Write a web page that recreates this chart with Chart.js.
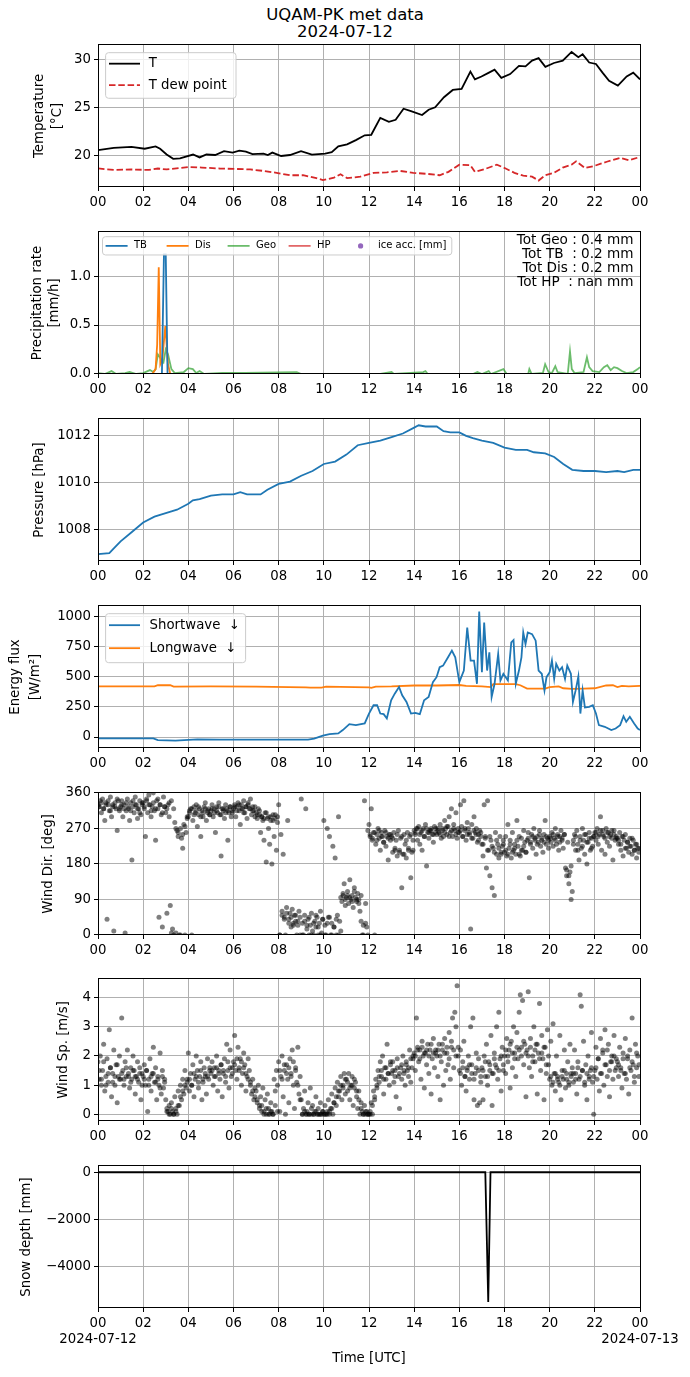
<!DOCTYPE html>
<html>
<head>
<meta charset="utf-8">
<title>UQAM-PK met data</title>
<script src="https://cdn.jsdelivr.net/npm/chart.js@4.4.1/dist/chart.umd.min.js"></script>
<style>
  html, body { margin: 0; padding: 0; background: #fff; }
  body { width: 690px; height: 1377px; position: relative; overflow: hidden; font-family: 'DejaVu Sans', sans-serif; }
  #title { position: absolute; left: 0; top: 7px; width: 690px; text-align: center; font-size: 16.5px; line-height: 16.8px; color: #000; }
  .panel { position: absolute; left: 0; width: 690px; }
</style>
</head>
<body>
<div id="title">UQAM-PK met data<br>2024-07-12</div>
<script>
// x axis: hours UTC
const hourTicks = [0, 2, 4, 6, 8, 10, 12, 14, 16, 18, 20, 22, 24];
const dateLabels = ['2024-07-12', '2024-07-13'];

// Temperature and dew point [°C]
const tHours = [0, 0.7, 1.48, 2.07, 2.55, 2.75, 3.04, 3.33, 3.63, 4.21, 4.5, 4.8, 5.19, 5.58, 5.96, 6.26, 6.55, 6.84, 7.33, 7.52,
  7.72, 8.11, 8.5, 8.99, 9.47, 10.06, 10.35, 10.64, 11.03, 11.42, 11.81, 12.1, 12.5, 12.88, 13.18, 13.53, 13.86, 14.35, 14.64, 14.93,
  15.32, 15.71, 16.1, 16.49, 16.69, 16.98, 17.27, 17.56, 17.86, 18.25, 18.64, 18.93, 19.22, 19.51, 19.81, 20.19, 20.58, 20.97, 21.27, 21.46,
  21.75, 22.05, 22.34, 22.63, 23.02, 23.41, 23.7, 24];
const tVals = [20.55, 20.8, 20.9, 20.7, 20.95, 20.7, 20.1, 19.65, 19.7, 20.1, 19.8, 20.1, 20.05, 20.45, 20.3, 20.5, 20.4, 20.15, 20.2, 20.05,
  20.3, 19.95, 20.05, 20.45, 20.1, 20.2, 20.35, 20.95, 21.15, 21.6, 22.1, 22.15, 23.9, 23.5, 23.7, 24.85, 24.6, 24.2, 24.75, 25.0,
  26.05, 26.8, 26.9, 28.7, 27.9, 28.2, 28.55, 28.9, 28.05, 28.45, 29.3, 29.25, 29.85, 30.1, 29.2, 29.6, 29.85, 30.75, 30.2, 30.5,
  29.65, 29.5, 28.6, 27.75, 27.25, 28.2, 28.6, 27.9];
const tdHours = [0, 0.7, 1.48, 2.26, 2.65, 3.04, 3.63, 4.02, 4.6, 5.38, 6.16, 6.74, 7.33, 7.91, 8.5, 9.08, 9.67, 9.96, 10.45, 10.74,
  11.03, 11.62, 12.2, 12.79, 13.37, 13.96, 14.54, 15.13, 15.52, 16.0, 16.49, 16.69, 17.08, 17.66, 18.05, 18.44, 18.83, 19.22, 19.51, 19.81,
  20.19, 20.58, 20.97, 21.17, 21.56, 21.95, 22.53, 23.12, 23.51, 24];
const tdVals = [18.66, 18.5, 18.55, 18.5, 18.65, 18.55, 18.7, 18.8, 18.75, 18.65, 18.6, 18.55, 18.4, 18.2, 17.95, 17.95, 17.65, 17.45, 17.7, 18.05,
  17.65, 17.8, 18.2, 18.25, 18.4, 18.2, 18.1, 17.95, 18.3, 19.05, 19.0, 18.3, 18.55, 19.05, 18.65, 18.2, 17.9, 17.8, 17.4, 17.95,
  18.2, 18.75, 19.05, 19.4, 18.7, 18.9, 19.35, 19.75, 19.5, 19.85];

// Precipitation rate [mm/h]
const tbHours = [0, 2.83, 2.92, 3.0, 3.08, 24];
const tbVals = [0, 0, 1.22, 1.22, 0, 0];
const disHours = [0, 2.4, 2.55, 2.62, 2.69, 2.76, 2.85, 2.98, 3.1, 3.2, 24];
const disVals = [0, 0, 0.05, 0.3, 1.09, 0.1, 0.15, 0.49, 0.1, 0, 0];
const geoHours = [0, 0.3, 0.6, 0.8, 1.2, 1.4, 1.7, 2.0, 2.3, 2.45, 2.55, 2.65, 2.8, 2.9, 3.0, 3.1, 3.25, 3.4, 3.8, 4.0,
  4.2, 4.35, 4.5, 4.7, 5.5, 6.5, 8.8, 9.0, 12.5, 13.0, 13.1, 14.4, 14.5, 14.6, 16.6, 16.8, 17.0, 17.3, 17.4, 17.95,
  18.1, 19.05, 19.1, 19.2, 19.7, 19.8, 19.95, 20.1, 20.25, 20.35, 20.8, 20.9, 20.98, 21.1, 21.5, 21.65, 21.75, 21.9, 22.2, 22.4,
  22.55, 22.7, 22.85, 23.0, 23.2, 23.4, 23.7, 23.9, 24];
const geoVals = [0.01, 0.0, 0.03, 0.0, 0.01, 0.02, 0.0, 0.01, 0.04, 0.02, 0.05, 0.2, 0.15, 0.12, 0.25, 0.2, 0.05, 0.01, 0.02, 0.06,
  0.05, 0.01, 0.03, 0.0, 0.01, 0.01, 0.02, 0.0, 0.0, 0.02, 0.0, 0.02, 0.03, 0.0, 0.0, 0.02, 0.0, 0.03, 0.0, 0.05,
  0.0, 0.0, 0.05, 0.0, 0.01, 0.1, 0.02, 0.01, 0.08, 0.02, 0.0, 0.23, 0.05, 0.01, 0.02, 0.17, 0.07, 0.03, 0.02, 0.07,
  0.09, 0.04, 0.07, 0.06, 0.03, 0.01, 0.02, 0.05, 0.07];
const precipTotals = ['Tot Geo : 0.4 mm', 'Tot TB  : 0.2 mm', 'Tot Dis : 0.2 mm', 'Tot HP  : nan mm'];

// Pressure [hPa]
const pHours = [0, 0.5, 0.7, 1, 1.5, 2, 2.5, 3, 3.5, 4, 4.2, 4.5, 5, 5.5, 6, 6.3, 6.6, 7.2, 7.5, 8,
  8.5, 9, 9.5, 10, 10.5, 11, 11.5, 12, 12.5, 13, 13.5, 14, 14.2, 14.5, 15, 15.3, 15.6, 16, 16.3, 16.6,
  17, 17.5, 18, 18.5, 19, 19.3, 19.8, 20.2, 20.6, 21, 21.5, 22, 22.5, 23, 23.3, 23.7, 24];
const pVals = [1006.95, 1007.0, 1007.2, 1007.5, 1007.9, 1008.3, 1008.55, 1008.7, 1008.85, 1009.1, 1009.25, 1009.3, 1009.45, 1009.5, 1009.5, 1009.6, 1009.5, 1009.5, 1009.7, 1009.95,
  1010.05, 1010.3, 1010.5, 1010.8, 1010.9, 1011.2, 1011.6, 1011.7, 1011.8, 1011.95, 1012.1, 1012.35, 1012.45, 1012.4, 1012.4, 1012.2, 1012.15, 1012.15, 1012.0, 1011.9,
  1011.8, 1011.7, 1011.5, 1011.4, 1011.4, 1011.3, 1011.25, 1011.1, 1010.8, 1010.55, 1010.5, 1010.5, 1010.45, 1010.5, 1010.45, 1010.55, 1010.55];

// Energy flux [W/m2]
const swHours = [0, 2.45, 2.65, 3.43, 4.4, 5.4, 9.3, 9.57, 9.96, 10.25, 10.64, 10.84, 11.13, 11.42, 11.81, 12.0, 12.2, 12.36, 12.5, 12.65,
  12.79, 12.98, 13.14, 13.33, 13.47, 13.66, 13.86, 14.05, 14.25, 14.44, 14.64, 14.83, 14.99, 15.13, 15.28, 15.5, 15.67, 15.82, 16.0, 16.2,
  16.35, 16.5, 16.65, 16.78, 16.88, 17.0, 17.1, 17.23, 17.33, 17.43, 17.56, 17.72, 17.82, 17.95, 18.15, 18.3, 18.4, 18.5, 18.64, 18.75,
  18.83, 18.93, 19.03, 19.22, 19.38, 19.51, 19.65, 19.77, 19.86, 20.0, 20.1, 20.2, 20.29, 20.43, 20.55, 20.68, 20.78, 20.94, 21.03, 21.15,
  21.27, 21.36, 21.46, 21.56, 21.75, 21.91, 22.05, 22.18, 22.44, 22.73, 22.92, 23.12, 23.27, 23.39, 23.55, 23.74, 23.9, 24];
const swVals = [-11, -11, -25, -30, -19, -22, -22, -14, 11, 25, 30, 58, 107, 99, 113, 195, 264, 264, 195, 190,
  154, 305, 360, 415, 346, 291, 195, 200, 190, 305, 332, 456, 497, 580, 593, 662, 717, 662, 456, 552,
  909, 635, 635, 442, 1041, 538, 950, 552, 703, 332, 442, 690, 470, 525, 470, 786, 805, 442, 552, 662,
  868, 772, 868, 854, 800, 552, 525, 387, 497, 538, 635, 483, 607, 552, 580, 483, 593, 525, 291, 387,
  503, 195, 387, 245, 250, 264, 195, 99, 85, 58, 71, 99, 173, 126, 168, 113, 71, 58];
const lwHours = [0, 2.5, 2.65, 3.2, 3.35, 5, 7, 9.2, 9.4, 9.9, 10.1, 12.0, 12.1, 12.3, 13.0, 14.0, 15.0, 16.0, 16.3, 17.0,
  17.4, 17.5, 18.0, 18.5, 18.7, 19.0, 19.8, 20.0, 20.4, 20.6, 21.0, 21.5, 22.0, 22.5, 22.8, 23.0, 23.2, 23.5, 24];
const lwVals = [420, 420, 430, 430, 418, 420, 418, 412, 410, 410, 418, 412, 408, 418, 420, 428, 428, 432, 425, 420,
  415, 440, 440, 440, 430, 402, 402, 415, 420, 405, 400, 402, 405, 428, 430, 415, 425, 420, 425];

// Wind samples, one every 3 minutes (20 per hour, one row per hour)
const windStep = 0.05;
const windDir = [
  330, 325, 340, 310, 345, 320, 290, 335, 40, 330, 315, 350, 300, 325, 10, 335, 320, 265, 340, 315,
  325, 340, 300, 330, 5, 315, 345, 320, 290, 335, 190, 325, 310, 350, 330, 295, 320, 340, 305, 330,
  335, 320, 250, 345, 310, 355, 330, 300, 325, 360, 315, 240, 340, 320, 45, 330, 305, 20, 350, 325,
  310, 55, 330, 300, 75, 340, 15, 320, 285, 5, 265, 250, 0, 270, 245, 220, 280, 0, 260, 295,
  300, 315, 320, 0, 290, 325, 310, 330, 275, 305, 320, 250, 315, 300, 325, 335, 290, 310, 320, 305,
  315, 330, 300, 320, 260, 325, 310, 335, 305, 200, 320, 315, 295, 330, 320, 240, 310, 325, 300, 315,
  320, 330, 300, 325, 335, 315, 280, 330, 320, 340, 310, 325, 295, 330, 320, 345, 305, 325, 315, 300,
  310, 295, 320, 305, 260, 300, 290, 240, 310, 185, 295, 270, 230, 300, 180, 290, 250, 305, 215, 285,
  330, 0, 255, 60, 205, 45, 0, 70, 290, 40, 55, 20, 65, 30, 50, 35, 0, 25, 60, 45,
  345, 30, 0, 50, 320, 15, 40, 0, 25, 55, 10, 0, 35, 20, 45, 0, 30, 60, 5, 40,
  290, 25, 0, 270, 45, 250, 0, 30, 225, 20, 195, 0, 50, 300, 35, 10, 85, 100, 130, 75,
  95, 110, 80, 140, 90, 100, 70, 120, 95, 85, 105, 90, 60, 35, 0, 25, 340, 80, 20, 265,
  280, 250, 320, 240, 260, 0, 230, 255, 270, 245, 215, 260, 250, 235, 265, 225, 250, 190, 255, 240,
  250, 210, 260, 220, 240, 200, 265, 215, 245, 120, 205, 255, 230, 195, 260, 215, 250, 145, 210, 240,
  265, 255, 270, 240, 275, 230, 260, 215, 270, 250, 280, 175, 260, 245, 265, 270, 255, 235, 275, 260,
  255, 270, 260, 280, 245, 265, 250, 290, 270, 255, 275, 300, 260, 320, 250, 280, 265, 310, 245, 270,
  260, 330, 275, 250, 340, 265, 240, 285, 270, 255, 15, 280, 245, 300, 260, 270, 235, 255, 265, 250,
  230, 200, 330, 250, 170, 340, 215, 150, 240, 120, 220, 100, 260, 205, 230, 195, 250, 210, 225, 240,
  210, 250, 200, 280, 220, 240, 195, 260, 215, 230, 205, 290, 225, 250, 200, 245, 215, 265, 235, 210,
  240, 260, 145, 230, 255, 220, 270, 245, 205, 250, 235, 265, 225, 240, 210, 255, 290, 230, 245, 220,
  250, 235, 260, 225, 245, 270, 230, 255, 215, 250, 265, 240, 220, 255, 170, 150, 235, 130, 160, 90,
  110, 240, 255, 215, 265, 230, 190, 250, 220, 270, 240, 205, 255, 180, 235, 260, 215, 245, 225, 250,
  260, 240, 270, 230, 255, 300, 215, 265, 250, 205, 270, 235, 260, 225, 255, 245, 190, 265, 240, 250,
  245, 230, 260, 215, 250, 200, 240, 255, 220, 235, 210, 245, 225, 205, 240, 215, 230, 195, 220, 210];
const windSpeed = [
  1.8, 1.2, 2.0, 1.0, 1.5, 2.4, 0.8, 1.3, 1.9, 1.1, 2.9, 1.6, 0.6, 1.4, 2.2, 1.0, 1.7, 0.4, 1.3, 2.0,
  1.2, 3.3, 1.5, 1.0, 1.8, 1.3, 2.2, 1.4, 0.9, 1.6, 1.2, 2.0, 1.5, 0.7, 1.3, 1.8, 1.1, 1.6, 0.5, 1.4,
  1.3, 1.7, 1.0, 1.5, 0.1, 1.2, 1.9, 0.8, 1.4, 2.3, 1.1, 1.6, 0.5, 1.3, 1.0, 2.1, 0.7, 1.5, 0.9, 1.2,
  0.5, 0.2, 0.1, 0.3, 0.0, 0.4, 0.1, 0.0, 0.6, 0.2, 0.0, 0.8, 0.3, 1.0, 0.5, 1.2, 0.7, 1.5, 0.9, 1.1,
  2.1, 0.8, 1.4, 1.0, 1.7, 0.6, 1.2, 2.0, 1.5, 0.9, 1.3, 1.8, 0.5, 1.1, 1.6, 1.3, 0.7, 1.9, 1.2, 1.5,
  1.4, 1.8, 1.0, 1.6, 1.3, 2.0, 0.8, 1.5, 1.2, 1.7, 0.6, 1.4, 1.9, 1.1, 2.4, 1.5, 0.9, 2.2, 1.3, 1.6,
  1.8, 2.7, 1.5, 1.2, 2.3, 1.6, 1.9, 1.0, 1.4, 2.1, 1.7, 0.8, 1.3, 1.9, 1.5, 1.1, 0.7, 1.2, 0.5, 0.9,
  0.8, 0.4, 1.0, 0.2, 0.6, 0.3, 0.9, 0.1, 0.5, 0.0, 0.7, 0.2, 0.0, 0.4, 0.1, 0.0, 1.2, 0.3, 1.5, 0.1,
  1.8, 0.1, 1.3, 2.0, 0.6, 1.5, 0.0, 1.7, 1.2, 0.4, 1.9, 1.4, 2.2, 1.0, 0.2, 1.6, 1.1, 2.3, 0.7, 1.3,
  0.5, 0.0, 0.2, 0.8, 0.0, 0.1, 0.4, 0.0, 0.9, 0.0, 0.3, 0.0, 0.1, 0.6, 0.0, 0.2, 0.0, 0.4, 0.0, 0.1,
  0.0, 0.3, 0.0, 0.1, 0.5, 0.0, 0.2, 0.7, 0.0, 0.4, 0.9, 0.3, 1.1, 0.6, 0.8, 1.3, 0.5, 1.0, 1.4, 0.7,
  1.2, 0.8, 1.4, 0.5, 1.0, 1.3, 0.3, 0.9, 1.1, 0.6, 0.2, 0.8, 0.0, 0.4, 0.1, 0.0, 0.3, 0.0, 0.1, 0.0,
  0.0, 0.1, 0.4, 0.0, 0.8, 0.5, 1.2, 0.9, 1.5, 1.1, 1.8, 1.3, 2.0, 0.7, 1.6, 1.2, 2.4, 1.4, 1.0, 1.7,
  1.4, 1.8, 1.1, 1.5, 0.6, 1.9, 1.3, 0.2, 1.6, 1.2, 2.0, 1.4, 1.0, 1.7, 1.5, 1.3, 2.2, 1.1, 1.6, 1.9,
  2.1, 1.5, 3.3, 2.3, 1.8, 2.2, 1.2, 2.5, 2.0, 0.9, 2.1, 1.7, 2.4, 1.4, 2.2, 0.7, 1.9, 2.6, 1.6, 2.1,
  2.0, 1.3, 2.4, 0.5, 1.8, 2.2, 1.0, 2.6, 1.5, 2.1, 1.7, 2.8, 1.2, 2.3, 3.3, 1.6, 3.5, 3.0, 4.4, 2.0,
  1.5, 2.2, 1.0, 1.8, 2.5, 1.3, 0.8, 1.6, 2.0, 1.2, 3.0, 1.7, 3.3, 0.5, 1.4, 2.1, 0.3, 1.9, 0.4, 1.1,
  1.6, 0.5, 2.0, 1.3, 2.4, 1.0, 1.8, 1.5, 2.7, 0.3, 1.4, 2.1, 1.7, 3.0, 1.2, 3.5, 1.9, 0.8, 2.3, 1.5,
  2.0, 1.4, 2.6, 1.8, 2.2, 0.9, 2.5, 1.6, 3.0, 2.1, 1.3, 2.8, 1.9, 3.5, 4.1, 2.3, 3.9, 1.7, 2.4, 0.6,
  2.2, 4.2, 1.6, 2.6, 1.3, 2.0, 3.0, 1.8, 2.4, 0.7, 2.1, 3.8, 1.5, 2.7, 1.9, 0.5, 2.3, 1.4, 2.9, 1.7,
  1.2, 2.5, 1.0, 3.1, 1.4, 0.8, 2.0, 1.3, 1.1, 2.7, 0.5, 1.5, 1.2, 2.2, 0.9, 1.4, 1.8, 1.0, 2.4, 1.3,
  1.6, 1.1, 2.2, 1.4, 0.7, 1.8, 1.2, 4.1, 3.7, 1.5, 2.5, 1.0, 1.7, 0.5, 2.0, 1.3, 1.5, 2.8, 1.1, 0.0,
  1.5, 2.3, 1.2, 1.9, 0.8, 2.6, 1.4, 2.2, 1.0, 2.9, 1.7, 1.3, 2.4, 0.6, 1.8, 2.0, 1.2, 2.7, 1.5, 1.9,
  1.8, 1.3, 2.3, 1.6, 0.9, 2.1, 1.4, 2.6, 1.2, 1.9, 0.7, 2.2, 1.5, 3.3, 1.7, 1.1, 2.4, 1.6, 2.0, 1.3];

// Second set of wind samples, every 6 minutes, starting at 00:03
const windStepB = 0.1;
const windStartB = 0.05;
const windDirB = [
  325, 335, 320, 330, 340, 315, 330, 325, 345, 320,
  330, 320, 335, 325, 315, 340, 330, 320, 310, 335,
  325, 340, 330, 315, 335, 320, 345, 330, 310, 325,
  320, 335, 5, 0, 270, 260, 0, 255, 275, 300,
  310, 320, 305, 315, 325, 300, 310, 320, 315, 305,
  320, 310, 315, 325, 305, 320, 310, 315, 325, 310,
  325, 315, 330, 320, 310, 325, 335, 320, 315, 325,
  305, 315, 300, 295, 310, 300, 290, 305, 295, 300,
  0, 50, 40, 55, 30, 45, 25, 50, 35, 0,
  0, 35, 25, 45, 0, 30, 50, 20, 0, 40,
  0, 30, 45, 0, 20, 40, 0, 95, 105, 90,
  100, 95, 85, 110, 90, 80, 100, 0, 30, 0,
  255, 245, 260, 240, 265, 250, 235, 260, 245, 255,
  245, 215, 255, 210, 250, 205, 240, 220, 255, 215,
  260, 270, 255, 265, 250, 270, 260, 265, 255, 270,
  265, 255, 270, 260, 275, 250, 265, 270, 255, 260,
  265, 250, 270, 255, 260, 245, 265, 255, 240, 260,
  230, 245, 215, 250, 225, 210, 240, 220, 205, 230,
  215, 205, 230, 210, 220, 240, 205, 215, 225, 210,
  245, 235, 250, 240, 230, 255, 245, 235, 250, 240,
  245, 255, 240, 250, 235, 245, 255, 165, 150, 175,
  230, 250, 215, 240, 225, 255, 235, 245, 220, 250,
  260, 250, 265, 255, 245, 260, 250, 265, 255, 245,
  240, 230, 250, 220, 235, 225, 245, 215, 230, 220];
const windSpeedB = [
  1.5, 1.2, 1.8, 1.0, 1.4, 1.6, 1.1, 1.3, 1.7, 1.2,
  1.4, 1.2, 1.6, 1.3, 1.1, 1.5, 1.3, 1.2, 1.4, 1.0,
  1.2, 1.5, 1.0, 1.3, 1.4, 1.1, 1.2, 0.9, 1.3, 1.1,
  0.1, 0.0, 0.2, 0.0, 0.1, 0.3, 0.6, 0.8, 1.0, 1.2,
  1.2, 1.0, 1.4, 1.3, 1.1, 1.5, 1.2, 1.4, 1.3, 1.6,
  1.5, 1.3, 1.6, 1.4, 1.7, 1.5, 1.3, 1.8, 1.6, 1.4,
  1.7, 1.9, 1.5, 1.8, 1.6, 1.4, 1.2, 1.0, 0.8, 0.6,
  0.5, 0.3, 0.1, 0.0, 0.2, 0.0, 0.1, 0.0, 0.8, 1.0,
  1.5, 1.2, 1.7, 1.4, 1.6, 1.3, 1.8, 1.5, 1.0, 0.5,
  0.0, 0.1, 0.0, 0.0, 0.2, 0.0, 0.1, 0.0, 0.0, 0.1,
  0.0, 0.0, 0.1, 0.2, 0.4, 0.6, 0.8, 1.0, 0.9, 1.2,
  1.1, 0.9, 1.0, 1.2, 0.8, 0.5, 0.2, 0.0, 0.1, 0.0,
  0.0, 0.3, 0.6, 1.0, 1.3, 1.5, 1.2, 1.6, 1.4, 1.8,
  1.5, 1.3, 1.6, 1.4, 1.7, 1.5, 1.8, 1.6, 1.9, 2.0,
  2.0, 2.2, 1.9, 2.3, 2.1, 2.2, 2.0, 2.4, 2.1, 2.2,
  2.2, 2.0, 2.4, 2.1, 2.3, 1.9, 2.5, 2.2, 2.0, 2.3,
  1.4, 1.6, 1.3, 1.5, 1.7, 1.4, 1.2, 1.6, 1.5, 1.3,
  1.5, 1.8, 1.3, 1.7, 1.4, 1.9, 1.6, 1.5, 2.0, 1.7,
  2.2, 2.0, 2.4, 2.1, 1.9, 2.3, 2.2, 2.0, 2.5, 2.1,
  2.0, 2.3, 1.8, 2.2, 2.4, 1.9, 2.1, 2.3, 1.7, 2.0,
  1.3, 1.1, 1.4, 1.2, 1.0, 1.3, 1.5, 1.2, 1.1, 1.4,
  1.4, 1.2, 1.6, 1.3, 1.5, 1.1, 1.4, 1.2, 1.6, 1.3,
  1.6, 1.9, 1.4, 2.1, 1.7, 2.2, 1.5, 1.8, 2.0, 1.6,
  1.7, 1.5, 1.9, 1.4, 2.0, 1.6, 1.8, 1.3, 2.1, 1.7];

// Snow depth [mm]
const snowHours = [0, 17.15, 17.28, 17.38, 24];
const snowVals = [0, 0, -5500, 0, 0];

// Tick values for each y axis
const tempTicks = [20, 25, 30];
const precipTicks = [0, 0.5, 1.0];
const pressTicks = [1008, 1010, 1012];
const fluxTicks = [0, 250, 500, 750, 1000];
const dirTicks = [0, 90, 180, 270, 360];
const speedTicks = [0, 1, 2, 3, 4];
const snowTicks = [-4000, -2000, 0];

const baseSize = 13.3;
Chart.defaults.font.family = "'DejaVu Sans', sans-serif";
Chart.defaults.font.size = baseSize;
Chart.defaults.color = '#000';
Chart.defaults.animation = false;

const gridColor = '#b0b0b0';
const padTop = 10;
const areaH = 143;

const pts = (xs, ys) => xs.map((x, i) => ({x: x, y: ys[i]}));

// both wind sample sets as points
function windPoints(a, b) {
  const out = a.map((v, i) => ({x: i * windStep, y: v}));
  b.forEach((v, i) => out.push({x: windStartB + i * windStepB, y: v}));
  return out;
}

// black frame around the plot area (top/right spines)
const frame = {
  id: 'frame',
  afterDatasetsDraw(chart) {
    const a = chart.chartArea, ctx = chart.ctx;
    const l = Math.round(a.left - 0.5) + 0.5, r = Math.round(a.right - 0.5) + 0.5;
    const t = Math.round(a.top - 0.5) + 0.5, b = Math.round(a.bottom - 0.5) + 0.5;
    ctx.save();
    ctx.strokeStyle = '#000';
    ctx.lineWidth = 1;
    ctx.strokeRect(l, t, r - l, b - t);
    ctx.restore();
  }
};

function roundRectPath(ctx, x, y, w, h, r) {
  ctx.beginPath();
  ctx.moveTo(x + r, y);
  ctx.arcTo(x + w, y, x + w, y + h, r);
  ctx.arcTo(x + w, y + h, x, y + h, r);
  ctx.arcTo(x, y + h, x, y, r);
  ctx.arcTo(x, y, x + w, y, r);
  ctx.closePath();
}

// matplotlib-like legend box drawn inside the plot area
const boxLegend = {
  id: 'boxLegend',
  afterDatasetsDraw(chart, args, o) {
    if (!o || !o.show) return;
    const ctx = chart.ctx, a = chart.chartArea;
    const x0 = a.left + o.x, y0 = a.top + o.y;
    ctx.save();
    roundRectPath(ctx, x0, y0, o.w, o.h, 3);
    ctx.fillStyle = 'rgba(255,255,255,0.8)';
    ctx.fill();
    ctx.strokeStyle = '#cccccc';
    ctx.lineWidth = 1;
    ctx.stroke();
    ctx.font = o.fontSize + "px 'DejaVu Sans'";
    ctx.textBaseline = 'middle';
    ctx.textAlign = 'left';
    chart.data.datasets.forEach(function(ds, i) {
      const col = i % o.cols, row = Math.floor(i / o.cols);
      const hx = x0 + o.padX + col * o.colW;
      const cy = y0 + o.rowY + row * o.rowH;
      if (ds.showLine === false) {
        ctx.fillStyle = ds.backgroundColor;
        ctx.beginPath();
        ctx.arc(hx + o.handle / 2, cy, 2.6, 0, Math.PI * 2);
        ctx.fill();
      } else {
        ctx.strokeStyle = ds.borderColor;
        ctx.lineWidth = ds.borderWidth;
        ctx.setLineDash(ds.borderDash || []);
        ctx.beginPath();
        ctx.moveTo(hx, cy);
        ctx.lineTo(hx + o.handle, cy);
        ctx.stroke();
        ctx.setLineDash([]);
      }
      ctx.fillStyle = '#000';
      ctx.fillText(ds.label, hx + o.textX, cy);
    });
    ctx.restore();
  }
};

// right-aligned text block in the upper right corner
const cornerText = {
  id: 'cornerText',
  afterDatasetsDraw(chart, args, o) {
    if (!o || !o.lines) return;
    const ctx = chart.ctx, a = chart.chartArea;
    ctx.save();
    ctx.font = "13.6px 'DejaVu Sans'";
    ctx.fillStyle = '#000';
    ctx.textAlign = 'right';
    ctx.textBaseline = 'middle';
    o.lines.forEach(function(s, i) {
      ctx.fillText(s, a.right - 6.5, a.top + 8.3 + i * 14);
    });
    ctx.restore();
  }
};

function timeAxis(bottomSpace, last) {
  return {
    type: 'linear', min: 0, max: 24,
    afterBuildTicks: function(s) { s.ticks = hourTicks.map(v => ({value: v})); },
    afterFit: function(s) { s.height = bottomSpace; },
    grid: {color: gridColor, lineWidth: 1, tickColor: '#000', tickLength: 4},
    border: {color: '#000', width: 1},
    ticks: {
      padding: 3, maxRotation: 0, autoSkip: false,
      font: {size: baseSize, lineHeight: 1.25},
      callback: function(v) {
        const h = String(v % 24).padStart(2, '0');
        if (last && v === 0) return [h, dateLabels[0]];
        if (last && v === 24) return [h, dateLabels[1]];
        return h;
      }
    },
    title: last ? {display: true, text: 'Time [UTC]', font: {size: baseSize, lineHeight: 1.2}, padding: {top: 0, bottom: 1}}
                : {display: false}
  };
}

function valueAxis(min, max, ticks, fmt, label, pad, lh) {
  return {
    type: 'linear', min: min, max: max,
    afterBuildTicks: function(s) { s.ticks = ticks.map(v => ({value: v})); },
    afterFit: function(s) { s.width = 98; },
    grid: {color: gridColor, lineWidth: 1, tickColor: '#000', tickLength: 4},
    border: {color: '#000', width: 1},
    ticks: {padding: 3, callback: fmt},
    title: {display: true, text: label, font: {size: baseSize, lineHeight: lh + 'px'}, padding: {top: pad, bottom: 0}}
  };
}

function addPanel(areaTop, bottomSpace, type, datasets, yAxis, last, extra) {
  const div = document.createElement('div');
  div.className = 'panel';
  div.style.top = (areaTop - padTop) + 'px';
  div.style.height = (padTop + areaH + bottomSpace) + 'px';
  const cv = document.createElement('canvas');
  div.appendChild(cv);
  document.body.appendChild(div);
  const pluginOpts = Object.assign({legend: {display: false}, tooltip: {enabled: false}}, extra || {});
  return new Chart(cv, {
    type: type,
    data: {datasets: datasets},
    options: {
      responsive: true,
      maintainAspectRatio: false,
      layout: {padding: {top: padTop, right: 50, left: 0, bottom: 0}},
      elements: {point: {radius: 0}, line: {tension: 0}},
      scales: {x: timeAxis(bottomSpace, last), y: yAxis},
      plugins: pluginOpts
    },
    plugins: [frame, boxLegend, cornerText]
  });
}

const plain = v => String(v);
const minusFmt = v => (v < 0 ? '\u2212' + Math.abs(v) : String(v));

// Temperature
addPanel(44, 30, 'line', [
  {label: 'T', data: pts(tHours, tVals), borderColor: '#000', borderWidth: 1.8, fill: false},
  {label: 'T dew point', data: pts(tdHours, tdVals), borderColor: '#d62728', borderWidth: 1.8, borderDash: [6.5, 2.8], fill: false}
], valueAxis(16.73, 31.47, tempTicks, plain, ['Temperature', '[°C]'], 30.8, 17.6), false,
  {boxLegend: {show: true, x: 7.6, y: 7.7, w: 130.4, h: 45.6, cols: 1, colW: 0, padX: 3.4, handle: 31, textX: 39.7, rowY: 11, rowH: 21.5, fontSize: baseSize}});

// Precipitation rate
addPanel(231, 30, 'line', [
  {label: 'TB', data: pts(tbHours, tbVals), borderColor: '#1f77b4', borderWidth: 1.8, fill: false},
  {label: 'Dis', data: pts(disHours, disVals), borderColor: '#ff7f0e', borderWidth: 1.8, fill: false},
  {label: 'Geo', data: pts(geoHours, geoVals), borderColor: 'rgba(44,160,44,0.7)', borderWidth: 1.8, fill: false},
  {label: 'HP', data: [], borderColor: 'rgba(214,39,40,0.7)', borderWidth: 1.8, fill: false},
  {label: 'ice acc. [mm]', data: [], showLine: false, backgroundColor: '#9467bd', borderColor: '#9467bd'}
], valueAxis(0, 1.45, precipTicks, v => v.toFixed(1), ['Precipitation rate', '[mm/h]'], 28.6, 17.6), false,
  {boxLegend: {show: true, x: 4.5, y: 4.7, w: 349.3, h: 18.3, cols: 5, colW: 61, padX: 3.1, handle: 22, textX: 28.4, rowY: 9.2, rowH: 0, fontSize: 10},
   cornerText: {lines: precipTotals}});

// Pressure
addPanel(418, 30, 'line', [
  {label: 'P', data: pts(pHours, pVals), borderColor: '#1f77b4', borderWidth: 1.8, fill: false}
], valueAxis(1006.66, 1012.72, pressTicks, plain, 'Pressure [hPa]', 32.1, 15), false);

// Energy flux
addPanel(605, 30, 'line', [
  {label: 'Shortwave  \u2193', data: pts(swHours, swVals), borderColor: '#1f77b4', borderWidth: 1.8, fill: false},
  {label: 'Longwave  \u2193', data: pts(lwHours, lwVals), borderColor: '#ff7f0e', borderWidth: 1.8, fill: false}
], valueAxis(-91, 1088, fluxTicks, plain, ['Energy flux', '[W/m\u00b2]'], 5.5, 19.8), false,
  {boxLegend: {show: true, x: 7.6, y: 7.7, w: 140, h: 49, cols: 1, colW: 0, padX: 3.4, handle: 31, textX: 40.6, rowY: 11.5, rowH: 23, fontSize: baseSize}});

// Wind direction
addPanel(792, 30, 'scatter', [
  {label: 'dir', data: windPoints(windDir, windDirB), pointRadius: 2.5, backgroundColor: 'rgba(0,0,0,0.5)', borderWidth: 0}
], valueAxis(0, 360, dirTicks, plain, 'Wind Dir. [deg]', 41.5, 15), false);

// Wind speed
addPanel(978, 30, 'scatter', [
  {label: 'spd', data: windPoints(windSpeed, windSpeedB), pointRadius: 2.5, backgroundColor: 'rgba(0,0,0,0.5)', borderWidth: 0}
], valueAxis(-0.228, 4.636, speedTicks, plain, 'Wind Sp. [m/s]', 56.5, 15), false);

// Snow depth
addPanel(1165, 60, 'line', [
  {label: 'snow', data: pts(snowHours, snowVals), borderColor: '#000', borderWidth: 1.8, fill: false}
], valueAxis(-5756, 265, snowTicks, minusFmt, 'Snow depth [mm]', 18.9, 15), true);
</script>
</body>
</html>
